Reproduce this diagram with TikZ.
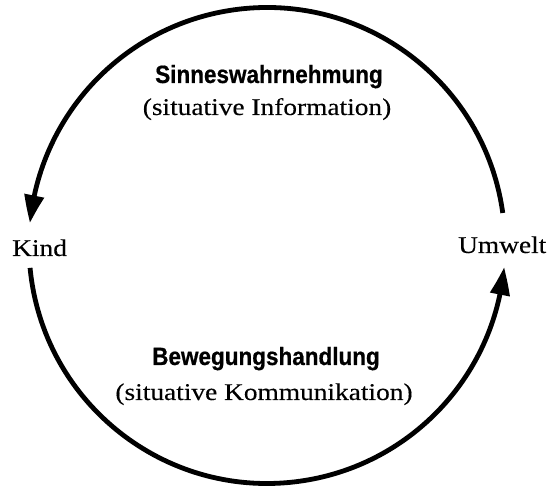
\documentclass[tikz,border=0pt]{standalone}
\usepackage{fontspec}
\newfontfamily\labelfont{Liberation Serif}[FakeStretch=1.14,FakeBold=0.25]
\newfontfamily\headfont{Liberation Sans Bold}[FakeStretch=0.9,FakeBold=0.6]
\usetikzlibrary{arrows.meta,bending,calc}
\begin{document}
\begin{tikzpicture}[x=1pt,y=1pt,
  cycleline/.style={line width=4.8pt,black},
  tipstyle/.style={-{Triangle[length=28pt,width=19pt,bend]}},
  headtext/.style={inner sep=0pt,anchor=base,font=\headfont\fontsize{25}{29}\selectfont},
  subtext/.style={inner sep=0pt,anchor=base,font=\labelfont\fontsize{24}{28}\selectfont},
  sidetext/.style={inner sep=0pt,font=\labelfont\fontsize{24}{28}\selectfont}]
\useasboundingbox (0,0) rectangle (547,488);
% side labels
\node[sidetext,anchor=base west] (kind) at (12,232) {Kind};
\node[sidetext,anchor=base west] (umwelt) at (458,235) {Umwelt};
% centre labels
\node[headtext] (sinn) at (269,405) {Sinneswahrnehmung};
\node[subtext] (info) at (267,373) {(situative Information)};
\node[headtext] (beweg) at (266,123) {Bewegungshandlung};
\node[subtext] (komm) at (264,88) {(situative Kommunikation)};
% arc end points
\coordinate (cc) at (267,242.5);
\coordinate (topstart) at ($(cc)+(7.85:238)$);
\coordinate (botstart) at ($(cc)+(185.4:238)$);
\draw[cycleline,tipstyle] (topstart) arc[start angle=7.85,end angle=174.6,radius=238];
\draw[cycleline,tipstyle] (botstart) arc[start angle=185.4,end angle=354.8,radius=238];
\end{tikzpicture}
\end{document}
